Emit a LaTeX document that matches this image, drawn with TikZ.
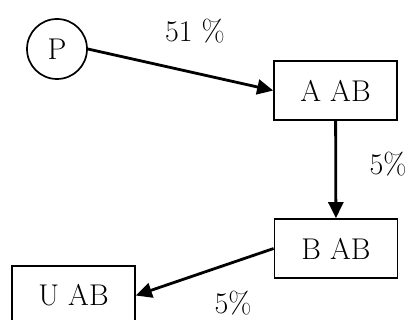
\documentclass[tikz,border=0pt]{standalone}
\usepackage{fontspec}
\setmainfont{Latin Modern Roman}
\usetikzlibrary{arrows.meta}

\begin{document}
\begin{tikzpicture}[x=1pt, y=-1pt, >={Triangle[length=16pt, width=15pt]},
  every node/.style={font=\fontsize{30}{36}\selectfont, inner sep=0pt},
  box/.style={draw, line width=1.7pt, minimum width=123pt, minimum height=59pt},
  pct/.style={},
  flow/.style={->, line width=2.8pt}]
\useasboundingbox (0,0) rectangle (409,320);
\node[draw, circle, line width=1.7pt, minimum size=60pt] (p) at (57,49) {P};
\node[box] (aab) at (335.5,90.5) {A AB};
\node[box] (bab) at (336,248.5) {B AB};
\node[box] (uab) at (73.5,295.5) {U AB};
\node[pct] (l1) at (195,31) {51 \%};
\node[pct] (l2) at (388,164) {5\%};
\node[pct] (l3) at (233,303) {5\%};
\draw[flow] (p.east) -- (aab.west);
\draw[flow] (aab) -- (bab);
\draw[flow] (bab.west) -- (uab.east);
\end{tikzpicture}
\end{document}
